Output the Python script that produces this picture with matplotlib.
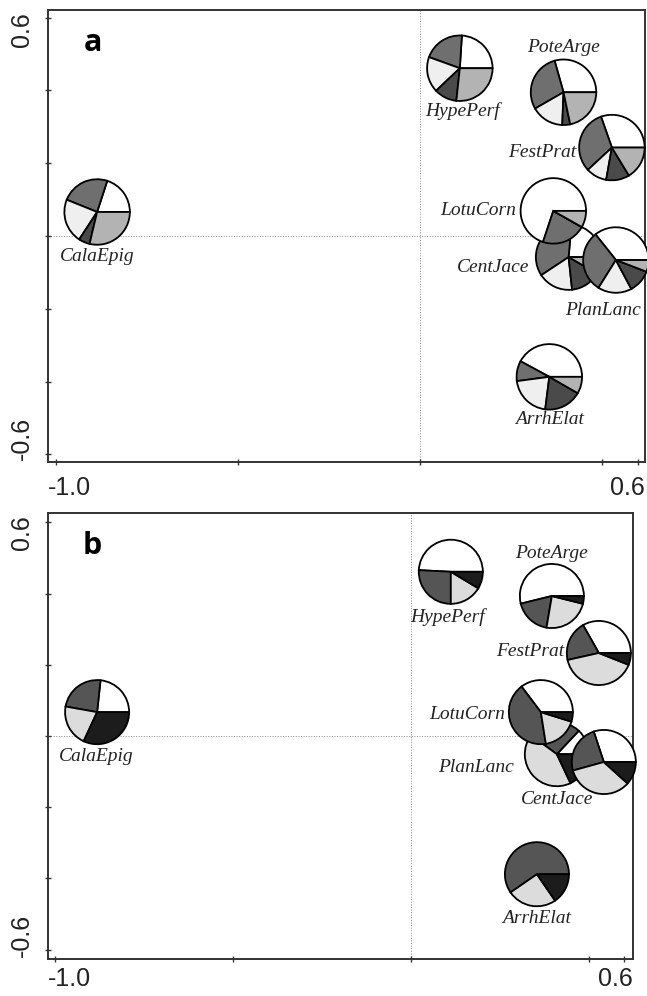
import matplotlib
matplotlib.use("Agg")
import matplotlib.pyplot as plt

# ordination scores and composition of each species' pie
species = ["CalaEpig", "HypePerf", "PoteArge", "FestPrat",
           "LotuCorn", "CentJace", "PlanLanc", "ArrhElat"]

# panel a (5 classes)
x_a = [-0.887, 0.110, 0.395, 0.528, 0.367, 0.409, 0.539, 0.356]
y_a = [0.066, 0.461, 0.395, 0.243, 0.069, -0.058, -0.066, -0.387]
comp_a = [
    [0.200, 0.239, 0.219, 0.055, 0.287],
    [0.240, 0.205, 0.176, 0.112, 0.267],
    [0.294, 0.289, 0.161, 0.039, 0.217],
    [0.304, 0.315, 0.103, 0.115, 0.163],
    [0.699, 0.219, 0.000, 0.000, 0.082],
    [0.236, 0.357, 0.174, 0.150, 0.083],
    [0.357, 0.304, 0.167, 0.114, 0.058],
    [0.421, 0.100, 0.209, 0.187, 0.083],
]

# panel b (4 classes)
x_b = [-0.882, 0.112, 0.396, 0.528, 0.365, 0.542, 0.410, 0.354]
y_b = [0.067, 0.461, 0.393, 0.233, 0.067, -0.073, -0.051, -0.388]
comp_b = [
    [0.233, 0.239, 0.209, 0.319],
    [0.492, 0.258, 0.164, 0.086],
    [0.539, 0.185, 0.238, 0.039],
    [0.332, 0.203, 0.405, 0.060],
    [0.353, 0.422, 0.177, 0.048],
    [0.301, 0.242, 0.340, 0.117],
    [0.130, 0.270, 0.420, 0.180],
    [0.000, 0.596, 0.250, 0.154],
]

colors_a = ["white", "#6f6f6f", "#efefef", "#4a4a4a", "#b3b3b3"]
colors_b = ["white", "#555555", "#dcdcdc", "#1c1c1c"]

# label placement (pixel offset from pie centre, horizontal alignment)
labels_a = {
    "CalaEpig": (0, -45, "center"), "HypePerf": (3, -43, "center"),
    "PoteArge": (0, 45, "center"), "FestPrat": (-36, -5, "right"),
    "LotuCorn": (-37, 0, "right"), "CentJace": (-39, -10, "right"),
    "PlanLanc": (-13, -50, "center"), "ArrhElat": (0, -43, "center"),
}
labels_b = {
    "CalaEpig": (-1, -44, "center"), "HypePerf": (-3, -45, "center"),
    "PoteArge": (0, 43, "center"), "FestPrat": (-35, 1, "right"),
    "LotuCorn": (-36, -2, "right"), "CentJace": (-47, -37, "center"),
    "PlanLanc": (-43, -13, "right"), "ArrhElat": (0, -44, "center"),
}
order_a = [0, 1, 2, 3, 5, 4, 6, 7]
order_b = [0, 1, 2, 3, 6, 4, 5, 7]

R = 0.09
W, H = 647, 996
fig = plt.figure(figsize=(W / 100, H / 100), dpi=100)


def panel(box, xs, ys, comps, colors, labels, order, tag, xlim, ylim, xpad):
    l, r, t, b = box
    ax = fig.add_axes([l / W, 1 - b / H, (r - l) / W, (b - t) / H])
    ax.axvline(0, color="#8a8a8a", lw=0.7, ls=":", zorder=0.5)
    ax.axhline(0, color="#8a8a8a", lw=0.7, ls=":", zorder=0.5)
    for i in order:
        wedges, _ = ax.pie(comps[i], colors=colors, center=(xs[i], ys[i]),
                           radius=R, startangle=0, counterclock=True,
                           frame=True,
                           wedgeprops=dict(edgecolor="black", linewidth=1.3))
        for w in wedges:
            w.set_clip_on(False)
            w.set_zorder(3)
        dx, dy, ha = labels[species[i]]
        ax.annotate(species[i], (xs[i], ys[i]), xytext=(dx, dy),
                    textcoords="offset pixels", ha=ha, va="center",
                    fontsize=14, style="italic", family="Liberation Serif",
                    color="#222222", zorder=4)
    ax.set_aspect("auto")
    ax.set_xlim(*xlim)
    ax.set_ylim(*ylim)
    ax.set_xticks([-1.0, -0.5, 0.0, 0.5, 0.6])
    ax.set_yticks([-0.6, -0.4, -0.2, 0.0, 0.2, 0.4, 0.6])
    ax.tick_params(direction="inout", length=5, width=1, color="#333333",
                   labelbottom=False, labelleft=False)
    for s in ax.spines.values():
        s.set_linewidth(1.4)
        s.set_color("#333333")
    tk = dict(fontsize=18, family="Liberation Sans", color="#222222",
              textcoords="offset pixels")
    ax.annotate("-1.0", (0, 0), xycoords="axes fraction", xytext=(0, -xpad),
                ha="left", va="top", **tk)
    ax.annotate("0.6", (1, 0), xycoords="axes fraction", xytext=(0, -xpad),
                ha="right", va="top", **tk)
    ax.annotate("0.6", (0, 1), xycoords="axes fraction", xytext=(-14, -2),
                ha="right", va="top", rotation=90, **tk)
    ax.annotate("-0.6", (0, 0), xycoords="axes fraction", xytext=(-14, 2),
                ha="right", va="bottom", rotation=90, **tk)
    ax.text(0.075, 0.926, tag, transform=ax.transAxes, fontsize=22,
            fontweight="bold", family="Open Sans", ha="center", va="center")
    return ax


panel((48, 645, 10, 462), x_a, y_a, comp_a, colors_a, labels_a, order_a,
      "a", (-1.022, 0.619), (-0.621, 0.621), 14)
panel((48, 633, 513, 959), x_b, y_b, comp_b, colors_b, labels_b, order_b,
      "b", (-1.02, 0.624), (-0.626, 0.626), 8)

fig.savefig("out.png", dpi=100)
